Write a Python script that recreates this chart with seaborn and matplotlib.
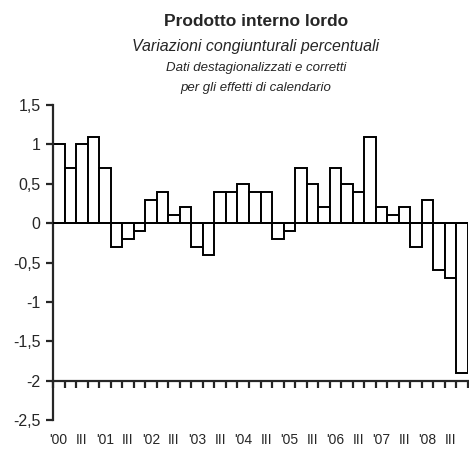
import matplotlib
matplotlib.use("Agg")
import matplotlib.pyplot as plt
import seaborn as sns
import pandas as pd
from matplotlib.ticker import FixedLocator, FuncFormatter

# quarterly % change, 2000Q1 .. 2008Q4
quarters = [f"{y}Q{q}" for y in range(2000, 2009) for q in range(1, 5)]
values = [1.0, 0.7, 1.0, 1.1,
          0.7, -0.3, -0.2, -0.1,
          0.3, 0.4, 0.1, 0.2,
          -0.3, -0.4, 0.4, 0.4,
          0.5, 0.4, 0.4, -0.2,
          -0.1, 0.7, 0.5, 0.2,
          0.7, 0.5, 0.4, 1.1,
          0.2, 0.1, 0.2, -0.3,
          0.3, -0.6, -0.7, -1.9]
tick_labels = []
for y in range(0, 9):
    tick_labels += [f"'{y:02d}", "III"]
y_ticks = [1.5, 1, 0.5, 0, -0.5, -1, -1.5, -2, -2.5]

df = pd.DataFrame({"quarter": quarters, "value": values})

sns.set_style("white")
plt.rcParams["font.family"] = ["Liberation Sans", "DejaVu Sans"]

fig = plt.figure(figsize=(4.69, 4.55), dpi=100)
ax = fig.add_axes([53 / 469, 1 - 420 / 455, 415 / 469, 315 / 455])

sns.barplot(data=df, x="quarter", y="value", color="white", edgecolor="black",
            linewidth=1.4, width=1.0, saturation=1, ax=ax)
ax.axhline(0, color="black", lw=1.4, zorder=3)

ax.set_xlim(-0.5, len(quarters) - 0.5)
ax.set_ylim(-2.5, 1.5)
ax.set_xlabel("")
ax.set_ylabel("")

for s in ["top", "right"]:
    ax.spines[s].set_visible(False)
ax.spines["left"].set_linewidth(1.6)
ax.spines["bottom"].set_linewidth(1.6)
ax.spines["bottom"].set_position(("data", -2))

ax.set_yticks(y_ticks)
ax.yaxis.set_major_formatter(FuncFormatter(lambda v, p: f"{v:g}".replace(".", ",")))
ax.tick_params(axis="y", direction="out", length=5, width=1.6, pad=4,
               labelsize=11.5, left=True)

ax.xaxis.set_major_locator(FixedLocator([i for i in range(0, len(quarters), 2)]))
ax.set_xticklabels(tick_labels)
ax.xaxis.set_minor_locator(FixedLocator([i - 0.5 for i in range(len(quarters) + 1)]))
ax.tick_params(axis="x", which="major", length=0, pad=38, labelsize=10)
ax.tick_params(axis="x", which="minor", direction="out", length=5, width=1.6,
               bottom=True)

fig.text(256 / 469, 1 - 21 / 455, "Prodotto interno lordo", ha="center",
         va="center", fontsize=12.5, fontweight="bold")
fig.text(256 / 469, 1 - 47 / 455, "Variazioni congiunturali percentuali",
         ha="center", va="center", fontsize=11.5, style="italic")
fig.text(256 / 469, 1 - 68 / 455, "Dati destagionalizzati e corretti",
         ha="center", va="center", fontsize=9.5, style="italic")
fig.text(256 / 469, 1 - 88 / 455, "per gli effetti di calendario",
         ha="center", va="center", fontsize=9.5, style="italic")

fig.savefig("out.png", dpi=100)
